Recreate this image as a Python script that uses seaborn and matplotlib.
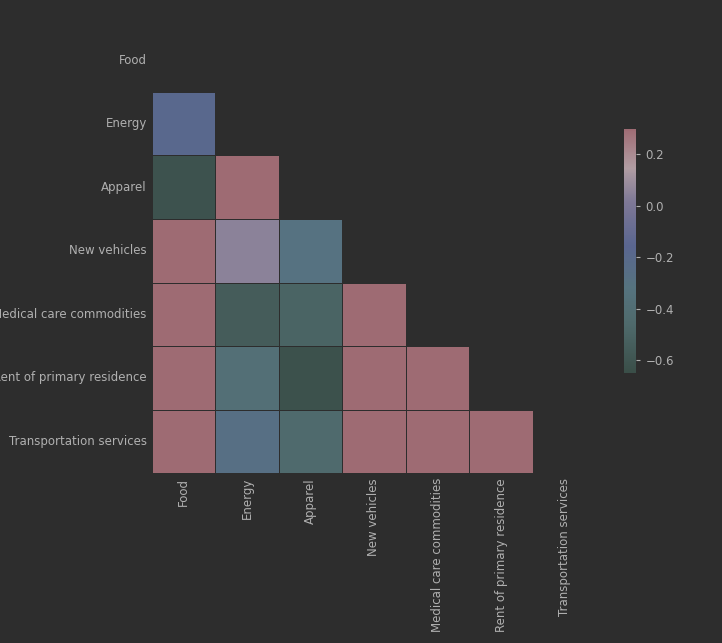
import numpy as np
import pandas as pd
import matplotlib
matplotlib.use("Agg")
import matplotlib.pyplot as plt
import seaborn as sns
from matplotlib.colors import LinearSegmentedColormap

labels = ["Food", "Energy", "Apparel", "New vehicles", "Medical care commodities",
          "Rent of primary residence", "Transportation services"]

# lower triangle, row by row
lower = [
    [],
    [-0.18],
    [-0.62, 0.30],
    [0.50, 0.05, -0.30],
    [0.60, -0.55, -0.50, 0.60],
    [0.70, -0.38, -0.63, 0.70, 0.70],
    [0.80, -0.27, -0.45, 0.80, 0.80, 0.80],
]

n = len(labels)
corr = np.eye(n)
for i, row in enumerate(lower):
    for j, v in enumerate(row):
        corr[i, j] = corr[j, i] = v
df = pd.DataFrame(corr, index=labels, columns=labels)
mask = np.triu(np.ones_like(corr, dtype=bool))

cmap = LinearSegmentedColormap.from_list("muted", [
    (0.00, "#3a4e48"), (0.20, "#4f6a6c"), (0.35, "#56737f"), (0.52, "#5a6690"),
    (0.70, "#7e7896"), (0.84, "#b09ca2"), (0.92, "#a8848b"), (1.00, "#9e6b73")])

bg = "#2d2d2d"
txt = "#b0b0b0"
fig, ax = plt.subplots(figsize=(7.22, 6.43), dpi=100)
fig.patch.set_facecolor(bg)
ax.set_facecolor(bg)
sns.heatmap(df, mask=mask, cmap=cmap, vmin=-0.65, vmax=0.3, center=None,
            square=True, linewidths=0.5, linecolor=bg,
            cbar_kws={"shrink": 0.5, "ticks": [0.2, 0.0, -0.2, -0.4, -0.6]}, ax=ax)
ax.tick_params(colors=txt, length=0, labelsize=8.5)
for t in ax.get_xticklabels() + ax.get_yticklabels():
    t.set_color(txt)
plt.setp(ax.get_xticklabels(), rotation=90)
cb = ax.collections[0].colorbar
cb.ax.tick_params(colors=txt, labelsize=8.5, length=3)
cb.outline.set_visible(False)
fig.subplots_adjust(left=0.21, right=0.98, top=0.99, bottom=0.23)
fig.savefig("out.png", dpi=100, facecolor=bg)
